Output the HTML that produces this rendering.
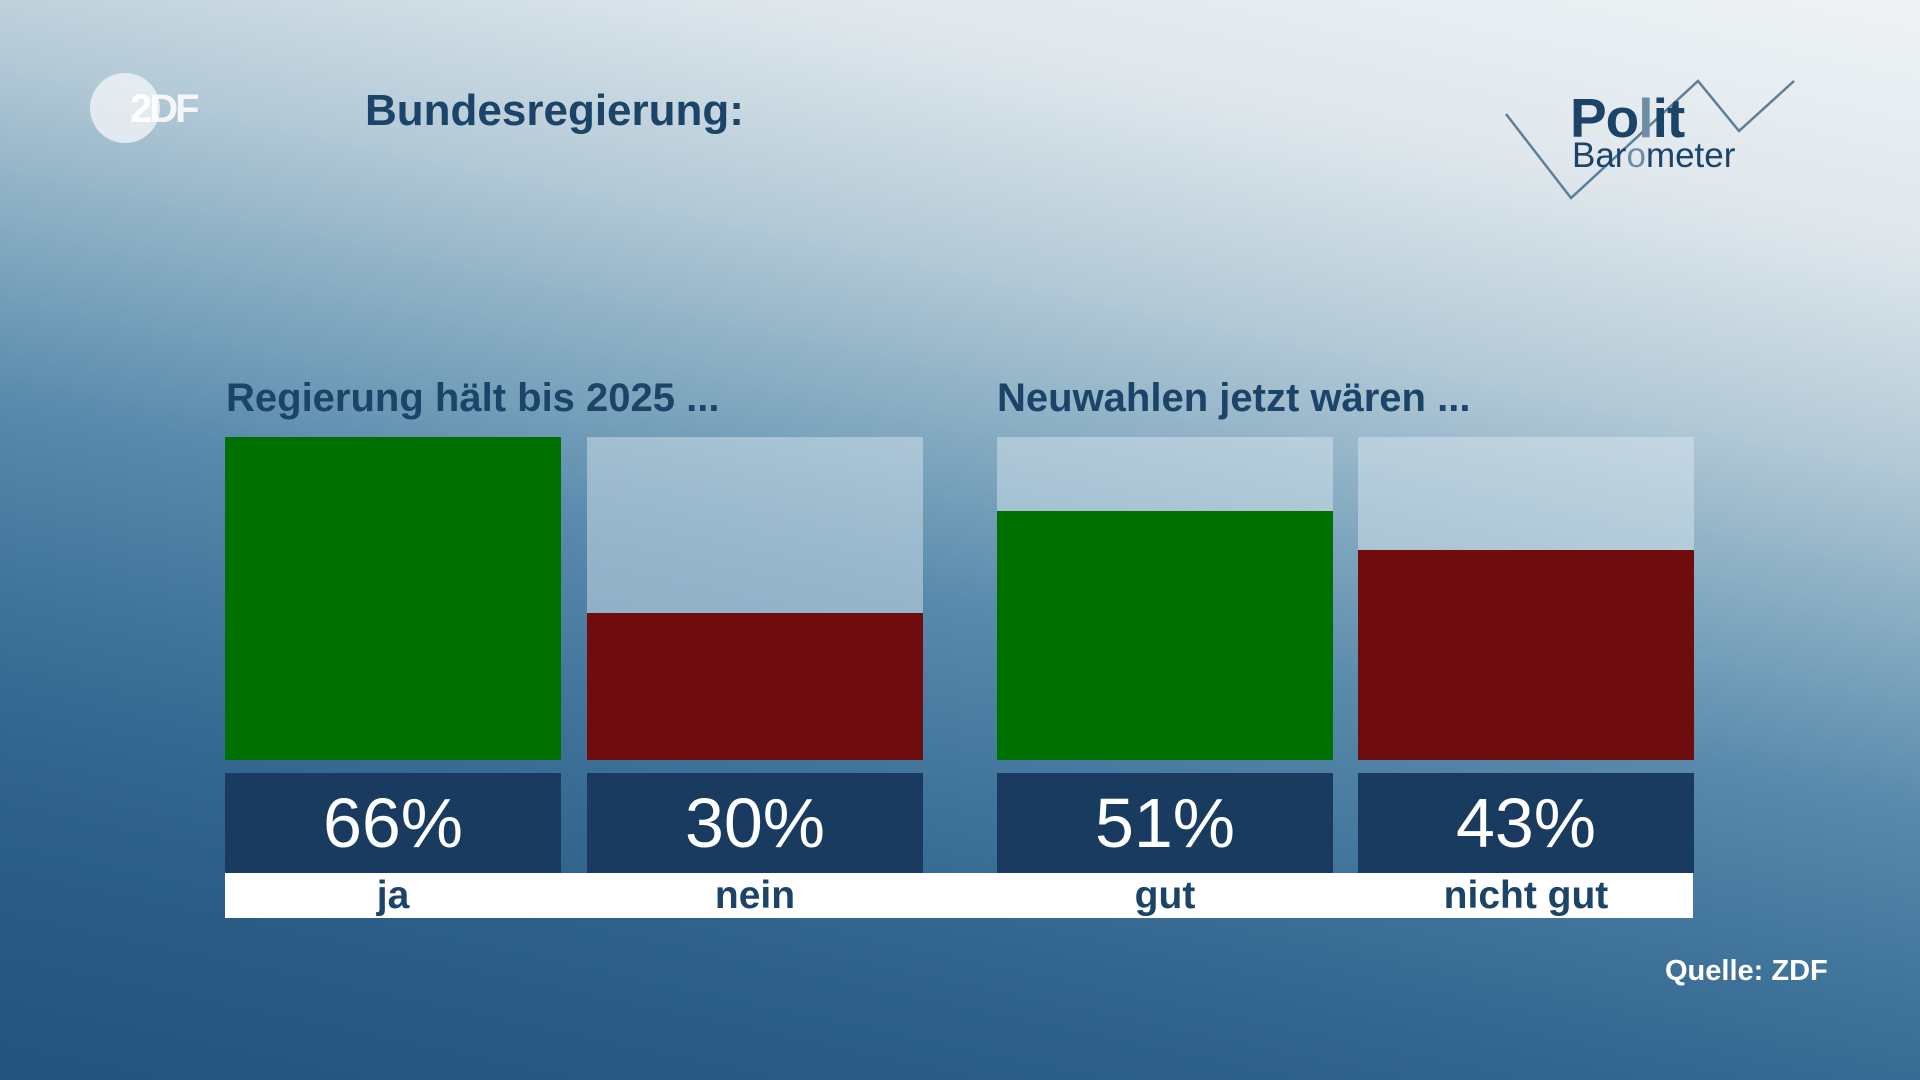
<!DOCTYPE html>
<html><head><meta charset="utf-8"><style>
*{margin:0;padding:0;box-sizing:border-box}
body{width:1920px;height:1080px;overflow:hidden;position:relative;font-family:"Liberation Sans",sans-serif;
background:linear-gradient(192deg,#eef2f5 0%,#e0e8ed 16%,#b4cad7 31%,#84aac1 43%,#5a8bad 54%,#3e7299 68%,#2c5f89 82%,#22537d 100%);}
.abs{position:absolute}
.ph{position:absolute;top:437px;height:323px;width:336px;background:rgba(225,235,242,0.45)}
.bar{position:absolute;width:336px}
.val{position:absolute;top:773px;height:100px;width:336px;background:#1a3b60;color:#fff;font-size:70px;text-align:center;line-height:100px}
.lab{position:absolute;top:873px;height:45px;width:336px;color:#1b4468;font-weight:bold;font-size:39px;text-align:center;line-height:45px}
.sub{position:absolute;top:376px;font-size:40px;font-weight:bold;color:#1b4468}
</style></head><body>
<div class="abs" style="left:90px;top:73px;width:70px;height:70px;border-radius:50%;background:rgba(240,244,247,0.8)"></div>
<div class="abs" style="left:130px;top:87px;font-size:40px;font-weight:bold;color:#fff;letter-spacing:-3px">2<span style="color:rgba(255,255,255,0.85)">DF</span></div>
<div class="abs" style="left:365px;top:86px;font-size:44px;font-weight:bold;color:#1b4468">Bundesregierung:</div>
<svg class="abs" style="left:0;top:0" width="1920" height="200"><polyline points="1506,114 1571,198 1698,81 1739,131 1794,81" fill="none" stroke="#5d7f98" stroke-width="2.5"/></svg>
<div class="abs" style="left:1570px;top:86px;font-size:55px;font-weight:bold;color:#1b4468;letter-spacing:-1px">Po<span style="color:#6d8ca6">l</span>it</div>
<div class="abs" style="left:1572px;top:136px;font-size:35px;color:#1b4468">Bar<span style="color:#6d8ca6">o</span>meter</div>
<div class="sub" style="left:226px">Regierung hält bis 2025 ...</div>
<div class="sub" style="left:997px">Neuwahlen jetzt wären ...</div>
<div class="ph" style="left:225px"></div><div class="ph" style="left:587px"></div><div class="ph" style="left:997px"></div><div class="ph" style="left:1358px"></div>
<div class="bar" style="left:225px;top:437px;height:323px;background:#007000"></div>
<div class="bar" style="left:587px;top:613px;height:147px;background:#6f0c0d"></div>
<div class="bar" style="left:997px;top:511px;height:249px;background:#007000"></div>
<div class="bar" style="left:1358px;top:550px;height:210px;background:#6f0c0d"></div>
<div class="val" style="left:225px">66%</div><div class="val" style="left:587px">30%</div><div class="val" style="left:997px">51%</div><div class="val" style="left:1358px">43%</div>
<div class="abs" style="left:225px;top:873px;width:1468px;height:45px;background:#fff"></div>
<div class="lab" style="left:225px">ja</div><div class="lab" style="left:587px">nein</div><div class="lab" style="left:997px">gut</div><div class="lab" style="left:1358px">nicht gut</div>
<div class="abs" style="left:1665px;top:955px;font-size:29px;font-weight:bold;color:#fff">Quelle: ZDF</div>
</body></html>
